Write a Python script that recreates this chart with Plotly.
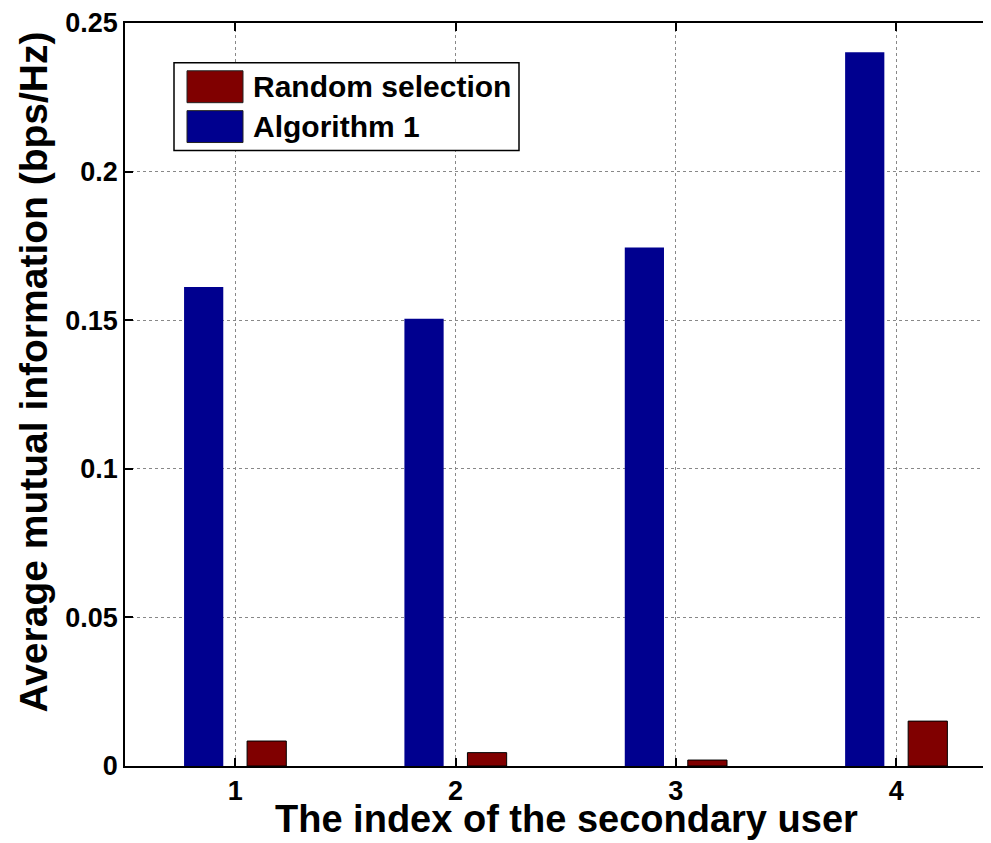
import plotly.graph_objects as go

users = [1, 2, 3, 4]
random_selection = [0.0084, 0.0045, 0.0020, 0.0151]
algorithm_1 = [0.1612, 0.1505, 0.1745, 0.2402]
y_ticks = [0, 0.05, 0.1, 0.15, 0.2, 0.25]
y_tick_labels = ["0", "0.05", "0.1", "0.15", "0.2", "0.25"]
series_names = ["Random selection", "Algorithm 1"]

RED = "#800000"
BLUE = "#00008F"
FONT = "Liberation Sans"

# page body has an 8px margin; work in screen pixels and convert
OFF = 8
W, H = 991 - OFF, 843 - OFF
PL, PT, PB, PR = 125, 20, 766, 991  # plot area in screen pixels
L, T = PL - OFF, PT - OFF
B = H - (PB - OFF)
R = 0
pw, ph = PR - PL, PB - PT

def px(x):
    return (x - PL) / pw

def py(y):
    return (PB - y) / ph

fig = go.Figure()
fig.add_trace(go.Bar(x=users, y=algorithm_1, name=series_names[1], marker=dict(color=BLUE, line=dict(width=0)),
                     offset=-0.232, width=0.178, showlegend=False))
fig.add_trace(go.Bar(x=users, y=random_selection, name=series_names[0], marker=dict(color=RED, line=dict(color="black", width=1)),
                     offset=0.054, width=0.178, showlegend=False))

shapes = []
annotations = []
# legend box
shapes.append(dict(type="rect", xref="paper", yref="paper", x0=px(174), x1=px(519), y0=py(148), y1=py(60),
                   line=dict(color="black", width=1.5), fillcolor="white", layer="above"))
for name, col, y0, y1 in [(series_names[0], RED, 68, 100), (series_names[1], BLUE, 108, 140)]:
    shapes.append(dict(type="rect", xref="paper", yref="paper", x0=px(187), x1=px(243), y0=py(y1), y1=py(y0),
                       line=dict(color="#222", width=1), fillcolor=col, layer="above"))
    annotations.append(dict(text=name, xref="paper", yref="paper", x=px(251), y=py((y0 + y1) / 2),
                            xanchor="left", yanchor="middle", showarrow=False,
                            font=dict(family=FONT, size=30, color="black", weight="bold")))

annotations.append(dict(text="The index of the secondary user", xref="paper", yref="paper", x=px(566), y=py(842.5),
                        xanchor="center", yanchor="bottom", showarrow=False,
                        font=dict(family=FONT, size=38, color="black", weight="bold")))
annotations.append(dict(text="Average mutual information (bps/Hz)", xref="paper", yref="paper", x=px(34), y=py(371),
                        xanchor="center", yanchor="middle", showarrow=False, textangle=-90,
                        font=dict(family=FONT, size=39, color="black", weight="bold")))

fig.update_layout(
    width=W, height=H,
    margin=dict(l=L, r=R, t=T, b=B, pad=0),
    paper_bgcolor="white", plot_bgcolor="white",
    shapes=shapes, annotations=annotations,
    xaxis=dict(range=[0.5, 4.43], tickvals=users, ticktext=[str(u) for u in users],
               ticks="inside", ticklen=8, tickwidth=1.5, tickcolor="black",
               showline=True, linecolor="black", linewidth=1.5, mirror="ticks",
               showgrid=True, gridcolor="#888", griddash="dot", gridwidth=1, zeroline=False,
               ticklabeloverflow="allow",
               tickfont=dict(family=FONT, size=27, color="black", weight="bold")),
    yaxis=dict(range=[0, 0.25], tickvals=y_ticks, ticktext=y_tick_labels,
               ticks="inside", ticklen=8, tickwidth=1.5, tickcolor="black",
               showline=True, linecolor="black", linewidth=1.5, mirror=False,
               showgrid=True, gridcolor="#888", griddash="dot", gridwidth=1, zeroline=False,
               ticklabeloverflow="allow",
               tickfont=dict(family=FONT, size=27, color="black", weight="bold")),
)

fig.write_html("out.html")
